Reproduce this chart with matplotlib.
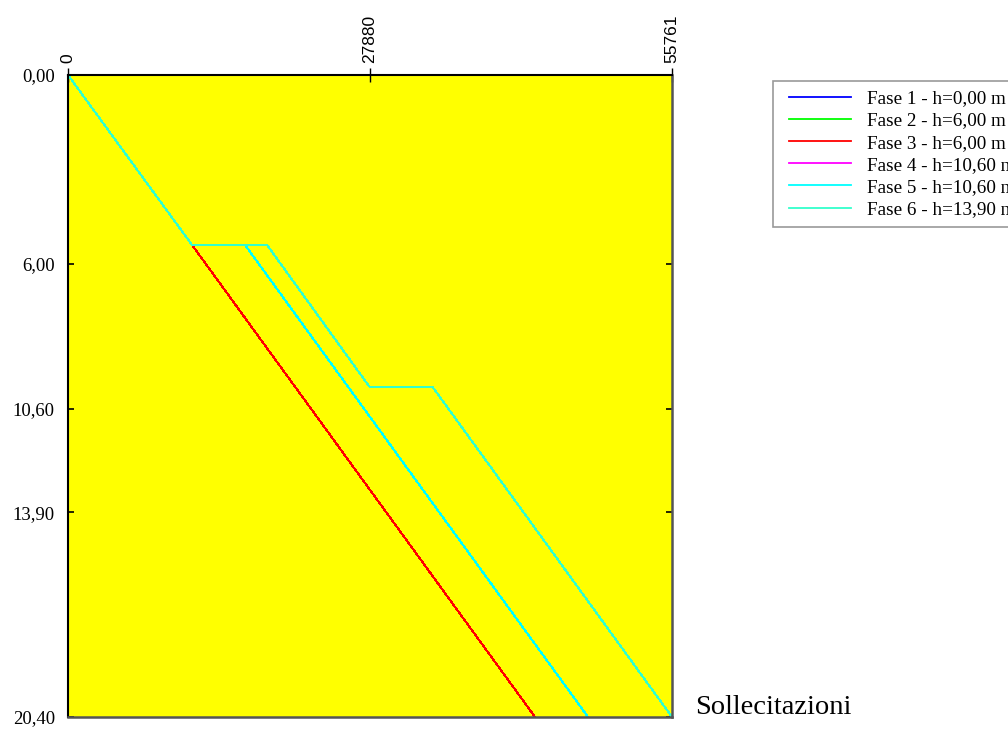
import matplotlib
matplotlib.use("Agg")
import matplotlib.pyplot as plt
from matplotlib.lines import Line2D
from matplotlib.legend_handler import HandlerLine2D

# ---- data ----
x_max = 55761
depth_max = 20.40
x_ticks = [0, 27880, 55761]
x_ticklabels = ["0", "27880", "55761"]
y_ticks = [0.0, 6.0, 10.6, 13.9, 20.4]
y_ticklabels = ["0,00", "6,00", "10,60", "13,90", "20,40"]

phase_labels = ["Fase 1 - h=0,00 m", "Fase 2 - h=6,00 m", "Fase 3 - h=6,00 m",
                "Fase 4 - h=10,60 m", "Fase 5 - h=10,60 m", "Fase 6 - h=13,90 m"]
phase_colors = ["#0000ff", "#00ff00", "#ff0000", "#ff00ff", "#00ffff", "#33ffcc"]

f1_x = [0, 0]
f1_y = [0.0, 0.0]
f2_x = [0, 11448]
f2_y = [0.0, 5.40]
f3_x = [0, 11448, 43113]
f3_y = [0.0, 5.40, 20.40]
f4_x = [0, 11448, 16341, 48006]
f4_y = [0.0, 5.40, 5.40, 20.40]
f5_x = [0, 11448, 16341, 48006]
f5_y = [0.0, 5.40, 5.40, 20.40]
f6_x = [0, 11448, 18372, 27816, 33632, 55761]
f6_y = [0.0, 5.40, 5.40, 9.90, 9.90, 20.40]

series = [(f1_x, f1_y), (f2_x, f2_y), (f3_x, f3_y),
          (f4_x, f4_y), (f5_x, f5_y), (f6_x, f6_y)]

fig = plt.figure(figsize=(10.08, 7.29), dpi=100)
fig.patch.set_facecolor("white")
ax = fig.add_axes([68 / 1008, 1 - 717 / 729, 604 / 1008, 642 / 729])
ax.set_facecolor("#ffff00")

for (xs, ys), c in zip(series, phase_colors):
    ax.plot(xs, ys, color=c, lw=0.75, antialiased=False)

ax.set_xlim(0, x_max)
ax.set_ylim(depth_max, 0)

ax.xaxis.tick_top()
ax.set_xticks(x_ticks)
ax.set_xticklabels(x_ticklabels, rotation=90, family="Liberation Sans",
                   fontsize=12.5, va="bottom", ha="center")
ax.tick_params(axis="x", direction="inout", length=9.5, width=1, pad=3.9)
ax.set_yticks(y_ticks)
ax.set_yticklabels(y_ticklabels, family="Liberation Serif", fontsize=13.5)
ax.tick_params(axis="y", direction="in", length=4, width=1.2, pad=9.5,
               left=True, right=True)

for s in ("left", "top"):
    ax.spines[s].set_color("black")
    ax.spines[s].set_linewidth(1.5)
for s in ("right", "bottom"):
    ax.spines[s].set_color("#555555")
    ax.spines[s].set_linewidth(1.8)

fig.text(695 / 1008, 1 - 707 / 729, "Sollecitazioni", family="Liberation Serif",
         fontsize=20.5, ha="left", va="center")

handles = [Line2D([0], [0], color=c, lw=1.3) for c in phase_colors]
leg = fig.legend(handles, phase_labels, loc="upper left",
                 bbox_to_anchor=(773 / 1008, 1 - 81 / 729),
                 prop={"family": "Liberation Serif", "size": 13.8},
                 frameon=True, fancybox=False, edgecolor="#808080",
                 handlelength=3.62, handletextpad=0.83, labelspacing=0.25,
                 borderpad=0.46, borderaxespad=0,
                 handler_map={Line2D: HandlerLine2D(xpad=0.4)})
leg.get_frame().set_linewidth(1.2)

fig.savefig("out.png", dpi=100)
